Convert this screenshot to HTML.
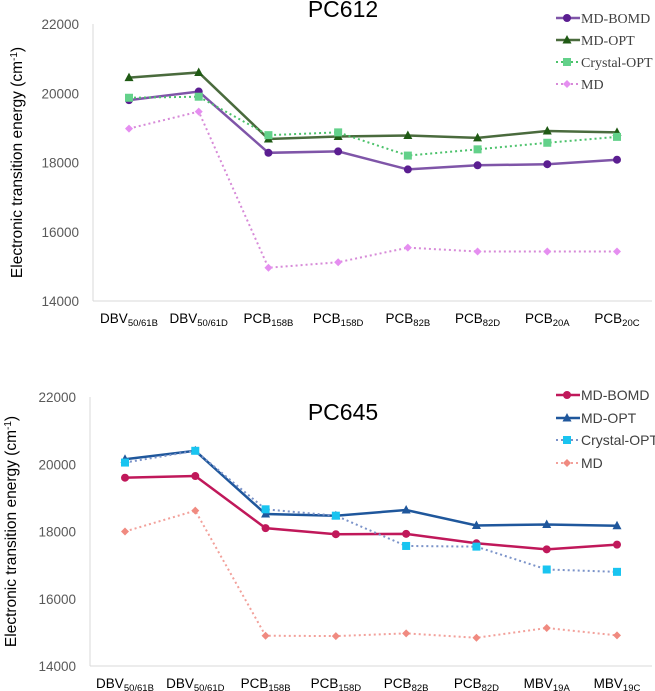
<!DOCTYPE html>
<html><head><meta charset="utf-8"><style>
body{margin:0;background:#fff;}
svg{display:block;font-family:"Liberation Sans",sans-serif;}
</style></head><body>
<svg id="s" width="655" height="691"></svg>
<script>
const cats1=["DBV|50/61B","DBV|50/61D","PCB|158B","PCB|158D","PCB|82B","PCB|82D","PCB|20A","PCB|20C"];
const cats2=["DBV|50/61B","DBV|50/61D","PCB|158B","PCB|158D","PCB|82B","PCB|82D","MBV|19A","MBV|19C"];
const yTicks=[14000,16000,18000,20000,22000];
const top_bomd=[19800,20050,18280,18320,17800,17920,17950,18080];
const top_opt=[20450,20600,18680,18750,18780,18710,18910,18870];
const top_cry=[19870,19900,18790,18870,18200,18380,18570,18740];
const top_md=[18980,19470,14960,15120,15540,15430,15430,15430];
const bot_bomd=[19600,19650,18100,17920,17930,17650,17470,17610];
const bot_opt=[20150,20400,18520,18470,18640,18180,18210,18170];
const bot_cry=[20050,20400,18660,18470,17570,17550,16870,16800];
const bot_md=[18000,18620,14900,14890,14970,14840,15130,14910];

const svg=document.getElementById('s');
const NS="http://www.w3.org/2000/svg";
function mk(tag,attrs,parent){const e=document.createElementNS(NS,tag);for(const k in attrs)e.setAttribute(k,attrs[k]);(parent||svg).appendChild(e);return e;}

function marker(g,type,x,y,color){
  let e;
  if(type==='circle')e=mk('circle',{cx:x,cy:y,r:4,fill:color},g);
  else if(type==='tri')e=mk('polygon',{points:`${x},${y-5} ${x-4.5},${y+3.5} ${x+4.5},${y+3.5}`,fill:color},g);
  else if(type==='square')e=mk('rect',{x:x-4,y:y-4,width:8,height:8,fill:color},g);
  else e=mk('polygon',{points:`${x},${y-4} ${x+4},${y} ${x},${y+4} ${x-4},${y}`,fill:color},g);
  return e;
}

function chart(o){
  const g=mk('g',{});
  
  
  const yS=v=>o.y0+(v-14000)/8000*(o.y1-o.y0);
  const xS=i=>o.x0+i*(o.x7-o.x0)/7;
  const ax=mk('line',{x1:o.axX,y1:o.y1,x2:o.axX,y2:o.y0,stroke:'#d9d9d9','stroke-width':1},g);
  
  const bx=mk('line',{x1:o.axX,y1:o.y0,x2:652,y2:o.y0,stroke:'#d9d9d9','stroke-width':1},g);
  
  yTicks.forEach(v=>{
    const t=mk('text',{x:o.axX-14,y:yS(v)+5,'text-anchor':'end','font-size':13.5,fill:'#595959'},g);
    t.textContent=v;
    
  });
  o.cats.forEach((c,i)=>{
    const [a,b]=c.split('|');
    const t=mk('text',{x:xS(i),y:o.y0+22,'text-anchor':'middle','font-size':13.5,fill:'#000'},g);
    
    const s1=mk('tspan',{},t);s1.textContent=a;
    const s2=mk('tspan',{'font-size':9.5,dy:3},t);s2.textContent=b;
  });
  const yt=mk('text',{transform:`translate(${o.ytX},${(o.y0+o.y1)/2}) rotate(-90)`,'text-anchor':'middle','font-size':15.5,fill:'#000'},g);
  
  const ys1=mk('tspan',{},yt);ys1.textContent='Electronic transition energy (cm';
  const ys2=mk('tspan',{'font-size':10,dy:-5},yt);ys2.textContent='-1';
  const ys3=mk('tspan',{dy:5},yt);ys3.textContent=')';
  const tt=mk('text',{x:343,y:o.titleY,'text-anchor':'middle','font-size':23,fill:'#000'},g);
  tt.textContent=o.title;
  o.series.forEach((s,k)=>{
    const sg=mk('g',{},g);
    
    const pts=s.data.map((v,i)=>xS(i)+','+yS(v)).join(' ');
    const pl=mk('polyline',{points:pts,fill:'none',stroke:s.line,'stroke-width':s.dash?2:2.5,'stroke-dasharray':s.dash?'2,3':'none'},sg);
    
    s.data.forEach((v,i)=>{const m=marker(sg,s.m,xS(i),yS(v),s.mc);
      });
    const ly=o.legY[k];
    const lg=mk('g',{},g);
    
    mk('line',{x1:556,y1:ly,x2:580,y2:ly,stroke:s.line,'stroke-width':s.dash?2:2.5,'stroke-dasharray':s.dash?'2,3':'none'},lg);
    marker(lg,s.m,567,ly,s.mc);
    const lt=mk('text',{x:581,y:ly+5,'font-size':14,fill:o.legColor,'font-family':o.legFont},lg);
    lt.textContent=s.label;
  });
}
chart({name:'pc612-chart',title:'PC612',titleY:17,cats:cats1,y0:301,y1:24,x0:129,x7:617,axX:93,ytX:22,
 legY:[18,40,62,84],legColor:'#404040',legFont:'"Liberation Serif",serif',
 series:[
  {key:'md-bomd',label:'MD-BOMD',data:top_bomd,line:'#7f55a8',mc:'#5b1e91',m:'circle'},
  {key:'md-opt',label:'MD-OPT',data:top_opt,line:'#4a6b3d',mc:'#1f5a14',m:'tri'},
  {key:'crystal-opt',label:'Crystal-OPT',data:top_cry,line:'#4cc26b',mc:'#63d18a',m:'square',dash:1},
  {key:'md',label:'MD',data:top_md,line:'#d78ad8',mc:'#e58ef0',m:'diamond',dash:1}]});
chart({name:'pc645-chart',title:'PC645',titleY:420,cats:cats2,y0:666,y1:397,x0:125,x7:617,axX:90,ytX:16,
 legY:[395,418,440,463],legColor:'#404040',legFont:'"Liberation Sans",sans-serif',
 series:[
  {key:'md-bomd',label:'MD-BOMD',data:bot_bomd,line:'#c0185a',mc:'#c0185a',m:'circle'},
  {key:'md-opt',label:'MD-OPT',data:bot_opt,line:'#1f579c',mc:'#1f579c',m:'tri'},
  {key:'crystal-opt',label:'Crystal-OPT',data:bot_cry,line:'#7b93c9',mc:'#19c4f0',m:'square',dash:1},
  {key:'md',label:'MD',data:bot_md,line:'#f2a09a',mc:'#f08a80',m:'diamond',dash:1}]});
</script>
</body></html>
